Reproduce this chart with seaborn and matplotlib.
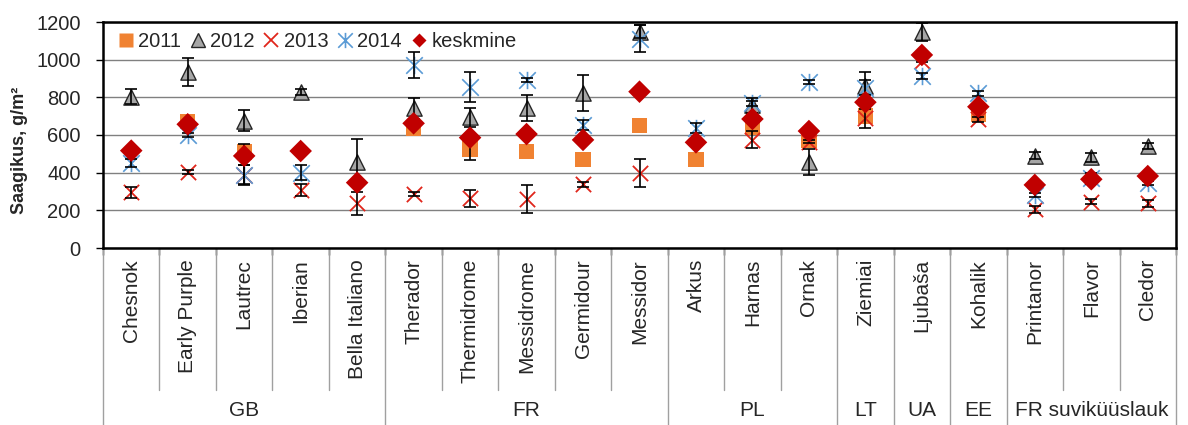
import numpy as np
import pandas as pd
import matplotlib
matplotlib.use("Agg")
import matplotlib.pyplot as plt
import seaborn as sns
from matplotlib.path import Path
from matplotlib.lines import Line2D

# ---------------- data ----------------
categories = ["Chesnok", "Early Purple", "Lautrec", "Iberian", "Bella Italiano",
              "Therador", "Thermidrome", "Messidrome", "Germidour", "Messidor",
              "Arkus", "Harnas", "Ornak", "Ziemiai", "Ljubaša", "Kohalik",
              "Printanor", "Flavor", "Cledor"]
groups = ["GB", "FR", "PL", "LT", "UA", "EE", "FR suviküüslauk"]
group_sizes = [5, 5, 3, 1, 1, 1, 3]

nan = np.nan
y2011 = [nan, 670, 510, nan, nan, 636, 526, 511, 471, 650, 471, 639, 574, 701, nan, 712, nan, nan, nan]
e2011 = [0, 0, 40, 0, 0, 0, 60, 0, 0, 0, 0, 0, 0, 0, 0, 0, 0, 0, 0]
y2012 = [803, 936, 676, 830, 455, 742, 694, 742, 825, 1149, nan, 759, 455, 860, 1149, nan, 490, 482, 543]
e2012 = [40, 75, 55, 15, 122, 55, 50, 70, 95, 35, 0, 40, 70, 75, 48, 0, 20, 25, 15]
y2013 = [295, 402, 390, 308, 237, 285, 265, 260, 338, 397, nan, 574, 565, 689, 995, 683, 205, 246, 237]
e2013 = [30, 10, 50, 30, 60, 10, 45, 75, 15, 75, 0, 45, 10, 50, 10, 15, 20, 15, 20]
y2014 = [450, 600, 388, 400, nan, 972, 857, 892, 653, 1112, 636, 768, 883, 850, 913, 821, 281, 370, 344]
e2014 = [20, 10, 53, 40, 0, 70, 80, 10, 25, 73, 28, 15, 10, 40, 15, 15, 10, 30, 10]
ymean = [517, 657, 489, 515, 347, 662, 586, 605, 574, 830, 561, 685, 621, 774, 1025, 750, 335, 365, 382]

yticks = [0, 200, 400, 600, 800, 1000, 1200]
ylabel = "Saagikus, g/m²"
series_labels = ["2011", "2012", "2013", "2014", "keskmine"]

# ---------------- style ----------------
sns.set_style("white")
plt.rcParams['font.family'] = ['Liberation Sans', 'DejaVu Sans']

c2011 = "#F08232"
c2012 = "#A6A6A6"
c2013 = "#E0261B"
c2014 = "#5B9BD5"
cmean = "#C00000"

asterisk = Path([(-1, -1), (1, 1), (-1, 1), (1, -1), (0, -1.05), (0, 1.05)],
                [Path.MOVETO, Path.LINETO] * 3)

fig = plt.figure(figsize=(11.88, 4.25), dpi=100)
ax = fig.add_axes([103 / 1188, 177 / 425, 1073 / 1188, 226 / 425])

x = np.arange(len(categories))
df = pd.DataFrame({"cat": categories, "x": x,
                   "y2011": y2011, "y2012": y2012, "y2013": y2013,
                   "y2014": y2014, "ymean": ymean,
                   "e2011": e2011, "e2012": e2012, "e2013": e2013, "e2014": e2014})

# markers
sns.scatterplot(data=df, x="x", y="y2011", marker="s", s=11 ** 2, color=c2011,
                edgecolor="none", linewidth=0, ax=ax, zorder=3, legend=False)
sns.scatterplot(data=df, x="x", y="y2012", marker="^", s=11 ** 2, color=c2012,
                edgecolor="#262626", linewidth=1.0, ax=ax, zorder=3.1, legend=False)
sns.scatterplot(data=df, x="x", y="y2013", marker="x", s=11 ** 2, color=c2013,
                linewidth=1.3, ax=ax, zorder=3.2, legend=False)
sns.scatterplot(data=df, x="x", y="y2014", marker=asterisk, s=12.5 ** 2, color=c2014,
                edgecolor=c2014, linewidth=1.2, ax=ax, zorder=3.3, legend=False)

# error bars
for ycol, ecol in [("y2011", "e2011"), ("y2012", "e2012"), ("y2013", "e2013"), ("y2014", "e2014")]:
    sub = df[(df[ecol] > 0) & df[ycol].notna()]
    ax.errorbar(sub["x"], sub[ycol], yerr=sub[ecol], fmt="none", ecolor="black",
                elinewidth=1.2, capsize=4.5, capthick=1.2, zorder=3.6)

sns.scatterplot(data=df, x="x", y="ymean", marker="D", s=11.5 ** 2, color=cmean,
                edgecolor="none", linewidth=0, ax=ax, zorder=5, legend=False)

# axes
ax.set_xlim(-0.5, len(categories) - 0.5)
ax.set_ylim(0, 1200)
ax.set_yticks(yticks)
ax.set_yticklabels([str(t) for t in yticks])
ax.yaxis.grid(True, color="#808080", linewidth=1)
ax.xaxis.grid(False)
ax.set_axisbelow(True)
ax.set_xlabel("")
ax.set_ylabel("")
for sp in ax.spines.values():
    sp.set_visible(True)
    sp.set_color("black")
    sp.set_linewidth(1.8)

ax.tick_params(axis="y", left=True, direction="out", length=5, width=1,
               color="black", pad=11, labelsize=14.5)
ax.set_xticks(x)
ax.set_xticklabels(categories, rotation=90, fontsize=15)
ax.tick_params(axis="x", which="major", bottom=True, length=0, pad=8)
ax.set_xticks(np.arange(-0.5, len(categories), 1), minor=True)
ax.tick_params(axis="x", which="minor", bottom=True, length=5, width=1, color="black")

fig.text(20 / 1188, 1 - 150 / 425, ylabel, rotation=90, ha="center", va="center",
         fontsize=13, fontweight="bold")

# multi-level category separators
trans = ax.get_xaxis_transform()
bounds = np.cumsum([0] + group_sizes) - 0.5
for b in np.arange(-0.5, len(categories), 1):
    if b in bounds:
        ax.plot([b, b], [0, -0.79], transform=trans, color="#A0A0A0", lw=1,
                clip_on=False, zorder=1)
    else:
        ax.plot([b, b], [0, -0.628], transform=trans, color="#A0A0A0", lw=1,
                clip_on=False, zorder=1)
for i, g in enumerate(groups):
    ctr = (bounds[i] + bounds[i + 1]) / 2
    ax.text(ctr, -0.717, g, transform=trans, ha="center", va="center", fontsize=15)

# legend
handles = [
    Line2D([], [], ls="none", marker="s", ms=10, color=c2011, mec="none"),
    Line2D([], [], ls="none", marker="^", ms=10, mfc=c2012, mec="#262626", mew=1.0),
    Line2D([], [], ls="none", marker="x", ms=10, color=c2013, mew=1.3),
    Line2D([], [], ls="none", marker=asterisk, ms=11, color=c2014, mew=1.2),
    Line2D([], [], ls="none", marker="D", ms=7.5, color=cmean, mec="none"),
]
ax.legend(handles, series_labels, loc="upper left", bbox_to_anchor=(0.006, 0.99),
          ncol=5, frameon=False, fontsize=14.5, handlelength=0.8,
          handletextpad=0.2, columnspacing=0.45, borderaxespad=0, borderpad=0.4)

fig.savefig("out.png", dpi=100)
